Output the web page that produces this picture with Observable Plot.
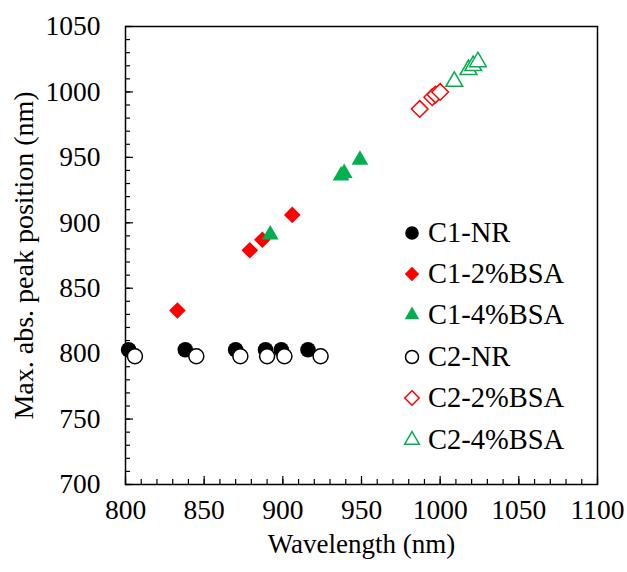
<!DOCTYPE html>
<html><head><meta charset="utf-8">
<script src="https://cdn.jsdelivr.net/npm/d3@7"></script>
<script src="https://cdn.jsdelivr.net/npm/@observablehq/plot@0.6"></script>
<style>
body{margin:0;background:#fff}
#wrap{position:relative;width:627px;height:572px;font-family:'Liberation Serif','Times New Roman',serif;color:#000}
#wrap svg text{font-family:'Liberation Serif','Times New Roman',serif;font-size:27.5px;fill:#000}
#wrap svg text.ttl{font-size:27px}
#wrap svg text.ttly{font-size:28px}
#leg{position:absolute;left:400px;top:212px}
.li{display:flex;align-items:center;height:41.4px;font-size:28.5px}
.li svg{margin-right:4px}
</style>
</head><body>
<div id="wrap"></div>
<script>
// Data
const c1nrX = [802, 838, 870, 889, 899, 916];
const c1nrY = [803, 803, 803, 803, 803, 803];
const c1b2X = [833, 879, 887, 906];
const c1b2Y = [833, 879, 887, 906];
const c1b4X = [892, 937, 939, 949];
const c1b4Y = [891, 936, 938, 948];
const c2nrX = [806, 845, 873, 890, 901, 924];
const c2nrY = [798, 798, 798, 798, 798, 798];
const c2b2X = [987, 995, 997, 1000];
const c2b2Y = [987, 996, 998, 1000];
const c2b4X = [1009, 1018, 1021, 1024];
const c2b4Y = [1008, 1017, 1020, 1023];

const xTicks = [800, 850, 900, 950, 1000, 1050, 1100];
const yTicks = [700, 750, 800, 850, 900, 950, 1000, 1050];
const xMinor = d3.range(800, 1101, 10);
const yMinor = d3.range(700, 1051, 10);

const seriesNames = ["C1-NR", "C1-2%BSA", "C1-4%BSA", "C2-NR", "C2-2%BSA", "C2-4%BSA"];
const xTitle = "Wavelength (nm)";
const yTitle = "Max. abs. peak position (nm)";

const W = 627, H = 572, mL = 125, mR = 30, mT = 26, mB = 88;
const plotW = W - mL - mR, plotH = H - mT - mB;
const RED = "#FF0000", GREEN = "#00B050";

const pts = (xs, ys) => xs.map((x, i) => ({x, y: ys[i]}));

const styles = [
  {symbol: "circle", fill: "#000", stroke: "none", r: 7.8},
  {symbol: "diamond2", fill: RED, stroke: "none", r: 7.5},
  {symbol: "triangle2", fill: GREEN, stroke: "none", r: 8},
  {symbol: "circle", fill: "#fff", stroke: "#000", r: 7.5},
  {symbol: "diamond2", fill: "#fff", stroke: RED, r: 7.5},
  {symbol: "triangle2", fill: "#fff", stroke: GREEN, r: 8}
];
const series = [
  pts(c1nrX, c1nrY), pts(c1b2X, c1b2Y), pts(c1b4X, c1b4Y),
  pts(c2nrX, c2nrY), pts(c2b2X, c2b2Y), pts(c2b4X, c2b4Y)
];

const plot = Plot.plot({
  width: W, height: H,
  marginLeft: mL, marginRight: mR, marginTop: mT, marginBottom: mB,
  x: {domain: [800, 1100]},
  y: {domain: [700, 1050]},
  style: {background: "#fff", overflow: "visible"},
  marks: [
    Plot.tickX(xMinor, {x: d => d, insetTop: plotH - 5, stroke: "#000", strokeWidth: 1.2}),
    Plot.tickX(xTicks, {x: d => d, insetTop: plotH - 8, stroke: "#000", strokeWidth: 1.2}),
    Plot.tickY(yMinor, {y: d => d, insetRight: plotW - 5, stroke: "#000", strokeWidth: 1.2}),
    Plot.tickY(yTicks, {y: d => d, insetRight: plotW - 8, stroke: "#000", strokeWidth: 1.2}),
    Plot.frame({stroke: "#000", strokeWidth: 1.5}),
    Plot.axisX(xTicks, {tickSize: 0, tickPadding: 15, tickFormat: d => String(d), label: null}),
    Plot.axisY(yTicks, {tickSize: 0, tickPadding: 25, tickFormat: d => String(d), label: null}),
    Plot.text([xTitle], {text: d => d, frameAnchor: "bottom", dy: 60, lineAnchor: "middle", textAnchor: "middle"}),
    Plot.text([yTitle], {text: d => d, frameAnchor: "left", dx: -101, rotate: -90, lineAnchor: "middle", textAnchor: "middle"}),
    ...series.map((data, i) => Plot.dot(data, {
      x: "x", y: "y", r: styles[i].r, symbol: styles[i].symbol,
      fill: styles[i].fill, stroke: styles[i].stroke, strokeWidth: 1.5
    }))
  ]
});

const wrap = document.getElementById("wrap");
wrap.appendChild(plot);
// tag title text elements for styling
plot.querySelectorAll("text").forEach(t => {
  if (t.textContent === xTitle) t.setAttribute("class", "ttl");
  if (t.textContent === yTitle) t.setAttribute("class", "ttly");
});

// legend
const leg = document.createElement("div");
leg.id = "leg";
const symMap = {circle: d3.symbolCircle, diamond2: d3.symbolDiamond2, triangle2: d3.symbolTriangle2};
seriesNames.forEach((name, i) => {
  const row = document.createElement("div");
  row.className = "li";
  const s = d3.create("svg").attr("width", 24).attr("height", 24);
  const rr = styles[i].r - 1;
  s.append("path")
    .attr("transform", "translate(12,12)")
    .attr("d", d3.symbol(symMap[styles[i].symbol], Math.PI * rr * rr)())
    .attr("fill", styles[i].fill).attr("stroke", styles[i].stroke).attr("stroke-width", 1.5);
  row.appendChild(s.node());
  const t = document.createElement("span");
  t.textContent = name;
  row.appendChild(t);
  leg.appendChild(row);
});
wrap.appendChild(leg);
</script>
</body></html>
